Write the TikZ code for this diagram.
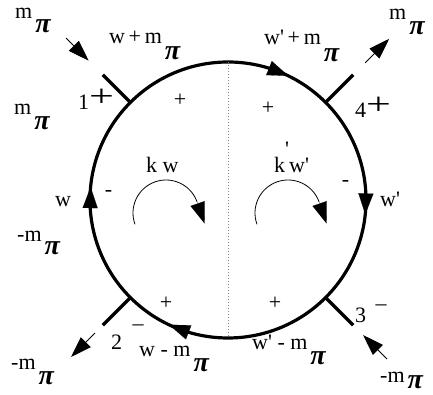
\documentclass[tikz,border=0pt]{standalone}
\usepackage{graphicx}
\usepackage{fontspec}
\setmainfont{Liberation Serif}
\usetikzlibrary{arrows.meta,calc}
\newcommand{\pii}[1]{\hspace{3pt}\raisebox{#1}{\fontsize{28}{28}\selectfont\textbf{\textit{π}}}}
\newcommand{\pr}{\textquotesingle}
\newcommand{\bigplus}{\scalebox{2}[1.4]{+}}
\begin{document}
\begin{tikzpicture}[x=1pt,y=1pt,
  leg/.style={line width=3.2pt},
  ext/.style={line width=0.9pt,-{Triangle[length=21pt,width=14pt]}},
  head/.style={line width=0.1pt,-{Triangle[length=21pt,width=15pt]}},
  spin/.style={line width=0.8pt},
  lbl/.style={inner sep=0,anchor=base west,font=\fontsize{22}{24}\selectfont},
  sgn/.style={inner sep=0,font=\fontsize{22}{24}\selectfont}]
\useasboundingbox (0,0) rectangle (433,395);
\coordinate (C) at (228,195);
\node[circle,draw,line width=3.2pt,minimum size=276pt,inner sep=0,outer sep=0] (ring) at (C) {};
\draw[gray,line width=0.8pt,dash pattern=on 1.5pt off 1.5pt] (ring.north) -- (ring.south);
% legs
\foreach \a/\n in {135/1,45/4,225/2,315/3}{
  \coordinate (e\n) at ($(C)+(\a:177)$);
  \draw[leg] (ring.\a) -- (e\n);
}
% external momentum arrows
\coordinate (a1s) at ($(C)+(135:229)$); \coordinate (a1t) at ($(C)+(135:197)$);
\coordinate (a4s) at ($(C)+(45:194)$);  \coordinate (a4t) at ($(C)+(45:228)$);
\coordinate (a2s) at ($(C)+(225:188)$); \coordinate (a2t) at ($(C)+(225:222)$);
\coordinate (a3s) at ($(C)+(315:225)$); \coordinate (a3t) at ($(C)+(315:191)$);
\draw[ext] (a1s) -- (a1t);
\draw[ext] (a4s) -- (a4t);
\draw[ext] (a2s) -- (a2t);
\draw[ext] (a3s) -- (a3t);
% arrowheads on the ring
\coordinate (h1s) at ($(C)+(72:138)$);  \coordinate (h1t) at ($(C)+(64:138)$);
\coordinate (h2s) at ($(C)+(2.3:138)$); \coordinate (h2t) at ($(C)+(-6:138)$);
\coordinate (h3s) at ($(C)+(253:138)$); \coordinate (h3t) at ($(C)+(244.7:138)$);
\coordinate (h4s) at ($(C)+(183:138)$); \coordinate (h4t) at ($(C)+(174.6:138)$);
\draw[head] (h1s) -- (h1t);
\draw[head] (h2s) -- (h2t);
\draw[head] (h3s) -- (h3t);
\draw[head] (h4s) -- (h4t);
% spin arcs
\coordinate (sL) at ($(166,182)+(200:33)$);
\coordinate (sLe) at ($(166,182)+(20:33)$);
\coordinate (sLt) at ($(sLe)+(7.5,-21.7)$);
\draw[spin] (sL) arc[start angle=200,end angle=20,radius=33];
\draw[head] (sLe) -- (sLt);
\coordinate (sR) at ($(288,182)+(200:33)$);
\coordinate (sRe) at ($(288,182)+(20:33)$);
\coordinate (sRt) at ($(sRe)+(7.5,-21.7)$);
\draw[spin] (sR) arc[start angle=200,end angle=20,radius=33];
\draw[head] (sRe) -- (sRt);
% labels
\node[lbl] (l1) at (15,376) {m\pii{-14pt}};
\node[lbl] (l2) at (109,351) {w\thinspace+\thinspace m\pii{-16pt}};
\node[lbl] (l3) at (78,285) {1\raisebox{3pt}{\bigplus}};
\node[lbl] (l4) at (14,280) {m\pii{-15pt}};
\node[lbl] (l5) at (55,188) {w};
\node[lbl] (l6) at (17,153) {-m\pii{-13pt}};
\node[lbl] (l7) at (111,45) {2};
\node[sgn] (l7m) at (138,67) {\textendash};
\node[lbl] (l8) at (11,25) {-m\pii{-15pt}};
\node[lbl] (l9) at (139,38) {w - m\pii{-15pt}};
\node[lbl] (l10) at (252,45) {w\pr{} - m\pii{-15pt}};
\node[lbl] (l11) at (355,72) {3};
\node[sgn] (l11m) at (381,87) {\textendash};
\node[lbl] (l12) at (380,12) {-m\pii{-6pt}};
\node[lbl] (l13) at (355,277) {4\raisebox{3pt}{\bigplus}};
\node[lbl] (l14) at (264,350) {w\pr\thinspace+\thinspace m\pii{-17pt}};
\node[lbl] (l15) at (389,375) {m\pii{-15pt}};
\node[lbl] (l16) at (380,188) {w\pr};
\node[lbl] (l17) at (146,222) {k w};
\node[lbl] (l18) at (274,222) {k\raisebox{16pt}{\pr}w\pr};
% signs inside
\node[sgn] (m1) at (108.5,201) {-};
\node[sgn] (m2) at (345.5,211) {-};
\node[sgn] (p1) at (180,295) {+};
\node[sgn] (p2) at (268,287) {+};
\node[sgn] (p3) at (166,92) {+};
\node[sgn] (p4) at (275,92) {+};
\end{tikzpicture}
\end{document}
